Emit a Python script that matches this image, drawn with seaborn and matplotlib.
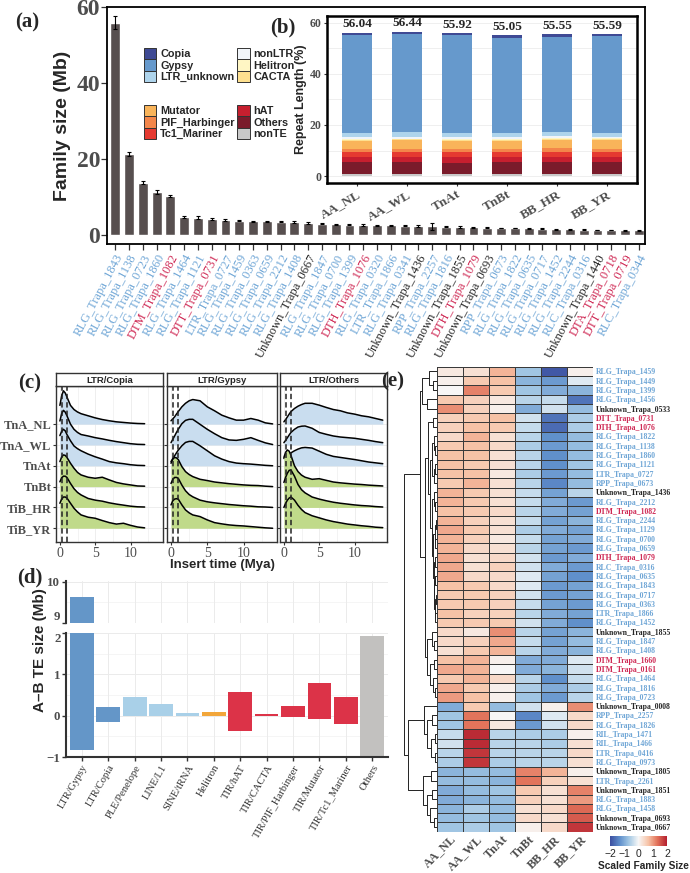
import numpy as np
import pandas as pd
import matplotlib
matplotlib.use('Agg')
import matplotlib.pyplot as plt
import seaborn as sns
from matplotlib.colors import LinearSegmentedColormap
from matplotlib.patches import Patch

# ---------------- DATA ----------------
fam_names = ["RLG_Trapa_1843", "RLG_Trapa_1138", "RLG_Trapa_0723", "RLG_Trapa_1860", "DTM_Trapa_1082",
             "RLG_Trapa_1464", "RLG_Trapa_1121", "DTT_Trapa_0731", "LTR_Trapa_0727", "RLG_Trapa_1459",
             "RLG_Trapa_0363", "RLG_Trapa_0659", "RLG_Trapa_2212", "RLG_Trapa_1408", "Unknown_Trapa_0667",
             "RLG_Trapa_1847", "RLG_Trapa_0700", "RLG_Trapa_1399", "DTH_Trapa_1076", "RLG_Trapa_0320",
             "LTR_Trapa_1866", "RLG_Trapa_0341", "Unknown_Trapa_1436", "RPP_Trapa_2257", "RLG_Trapa_1816",
             "Unknown_Trapa_1855", "DTH_Trapa_1079", "Unknown_Trapa_0693", "RPP_Trapa_0673", "RLG_Trapa_1822",
             "RLG_Trapa_0635", "RLG_Trapa_0717", "RLG_Trapa_1452", "RLG_Trapa_2244", "RLC_Trapa_0316",
             "Unknown_Trapa_1440", "DTA_Trapa_0718", "DTT_Trapa_0719", "RLC_Trapa_0344"]
fam_sizes = [56.0, 21.3, 13.8, 11.3, 10.2, 4.7, 4.5, 4.2, 3.9, 3.7, 3.6, 3.6, 3.5, 3.4, 3.2,
             3.0, 2.8, 2.7, 2.6, 2.5, 2.5, 2.4, 2.3, 2.3, 2.2, 2.1, 2.0, 1.9, 1.8, 1.8,
             1.7, 1.6, 1.5, 1.5, 1.4, 1.3, 1.3, 1.2, 1.2]
fam_err = [1.6, 0.6, 0.3, 0.5, 0.3, 0.2, 0.4, 0.2, 0.2, 0.15, 0.15, 0.15, 0.2, 0.15, 0.2,
           0.15, 0.15, 0.15, 0.15, 0.15, 0.15, 0.15, 0.2, 0.9, 0.15, 0.15, 0.1, 0.1, 0.1, 0.1,
           0.1, 0.1, 0.1, 0.1, 0.1, 0.1, 0.1, 0.1, 0.1]

# (b) stacked repeat composition (%)
rep_samples = ["AA_NL", "AA_WL", "TnAt", "TnBt", "BB_HR", "BB_YR"]
rep_totals = ["56.04", "56.44", "55.92", "55.05", "55.55", "55.59"]
rep_nonTE = [0.8, 0.8, 0.8, 0.8, 0.8, 0.8]
rep_Others = [4.6, 4.6, 4.5, 4.7, 4.8, 4.6]
rep_hAT = [2.0, 2.0, 2.0, 2.0, 2.0, 2.0]
rep_Tc1 = [1.9, 2.0, 2.0, 1.9, 2.0, 2.0]
rep_PIF = [1.3, 1.3, 1.3, 1.3, 1.3, 1.3]
rep_Mutator = [3.3, 3.3, 3.3, 3.2, 3.4, 3.4]
rep_CACTA = [0.4, 0.4, 0.4, 0.4, 0.4, 0.4]
rep_Helitron = [0.3, 0.3, 0.3, 0.3, 0.3, 0.3]
rep_nonLTR = [0.5, 0.5, 0.5, 0.5, 0.5, 0.5]
rep_LTRunk = [1.6, 1.9, 1.6, 1.9, 1.6, 1.7]
rep_Gypsy = [38.34, 38.34, 38.32, 36.95, 37.45, 37.59]
rep_Copia = [1.0, 1.0, 0.9, 1.1, 1.0, 1.0]

# (c) ridgeline densities (height in row units)
ridge_rows = ["TnA_NL", "TnA_WL", "TnAt", "TnBt", "TiB_HR", "TiB_YR"]
x_copia = [0, 0.25, 0.5, 0.75, 1, 1.5, 2, 2.5, 3, 4, 5, 6, 7, 8, 9, 10, 11, 12]
x_long = [0, 0.25, 0.5, 0.75, 1, 1.5, 2, 2.5, 3, 4, 5, 6, 7, 8, 9, 10, 11, 12, 13, 14]
copia_NL = [0.9, 1.35, 1.6, 1.5, 1.3, 0.9, 0.7, 0.58, 0.5, 0.4, 0.3, 0.22, 0.16, 0.11, 0.08, 0.05, 0.03, 0.02]
copia_WL = [1.15, 1.5, 1.66, 1.58, 1.4, 1.0, 0.75, 0.6, 0.5, 0.43, 0.35, 0.29, 0.22, 0.16, 0.11, 0.06, 0.03, 0.02]
copia_At = [1.45, 1.65, 1.75, 1.68, 1.5, 1.2, 0.95, 0.82, 0.72, 0.56, 0.43, 0.32, 0.2, 0.14, 0.1, 0.05, 0.02, 0.01]
copia_Bt = [1.2, 1.42, 1.52, 1.5, 1.4, 1.12, 0.88, 0.68, 0.56, 0.45, 0.4, 0.45, 0.32, 0.2, 0.13, 0.08, 0.03, 0.02]
copia_HR = [1.23, 1.42, 1.5, 1.5, 1.44, 1.15, 0.9, 0.72, 0.6, 0.43, 0.35, 0.3, 0.22, 0.16, 0.11, 0.06, 0.03, 0.02]
copia_YR = [1.2, 1.4, 1.5, 1.5, 1.45, 1.2, 0.96, 0.78, 0.64, 0.53, 0.48, 0.37, 0.27, 0.2, 0.24, 0.14, 0.06, 0.02]
gypsy_NL = [0.16, 0.25, 0.35, 0.48, 0.6, 0.83, 1.0, 1.12, 1.18, 1.12, 0.83, 0.64, 0.43, 0.3, 0.19, 0.19, 0.27, 0.19, 0.06, 0.01]
gypsy_WL = [0.11, 0.27, 0.43, 0.6, 0.75, 1.02, 1.18, 1.23, 1.23, 0.99, 0.75, 0.54, 0.35, 0.24, 0.22, 0.27, 0.35, 0.22, 0.1, 0.02]
gypsy_At = [0.2, 0.34, 0.48, 0.62, 0.75, 0.96, 1.12, 1.17, 1.17, 0.96, 0.72, 0.48, 0.32, 0.2, 0.13, 0.1, 0.08, 0.05, 0.02, 0.0]
gypsy_Bt = [1.12, 1.32, 1.4, 1.38, 1.3, 0.96, 0.72, 0.58, 0.48, 0.35, 0.29, 0.22, 0.18, 0.14, 0.11, 0.08, 0.06, 0.05, 0.02, 0.0]
gypsy_HR = [1.15, 1.35, 1.44, 1.44, 1.4, 1.07, 0.8, 0.62, 0.51, 0.35, 0.27, 0.22, 0.18, 0.14, 0.11, 0.08, 0.06, 0.03, 0.02, 0.0]
gypsy_YR = [1.12, 1.32, 1.4, 1.42, 1.4, 1.12, 0.88, 0.74, 0.64, 0.56, 0.4, 0.27, 0.21, 0.16, 0.13, 0.11, 0.08, 0.05, 0.02, 0.0]
others_NL = [0.11, 0.22, 0.35, 0.48, 0.6, 0.75, 0.86, 0.94, 1.0, 1.0, 0.91, 0.8, 0.7, 0.64, 0.54, 0.48, 0.4, 0.35, 0.27, 0.19]
others_WL = [0.11, 0.22, 0.35, 0.48, 0.6, 0.75, 0.86, 0.9, 0.91, 0.8, 0.6, 0.51, 0.43, 0.38, 0.35, 0.32, 0.27, 0.22, 0.16, 0.11]
others_At = [0.35, 0.42, 0.5, 0.57, 0.62, 0.72, 0.8, 0.86, 0.88, 0.85, 0.7, 0.55, 0.45, 0.4, 0.35, 0.3, 0.24, 0.18, 0.14, 0.1]
others_Bt = [1.4, 1.65, 1.76, 1.7, 1.5, 1.0, 0.72, 0.55, 0.45, 0.35, 0.38, 0.3, 0.22, 0.18, 0.15, 0.12, 0.1, 0.07, 0.05, 0.03]
others_HR = [1.2, 1.45, 1.65, 1.78, 1.8, 1.5, 1.1, 0.85, 0.7, 0.5, 0.4, 0.32, 0.25, 0.2, 0.16, 0.12, 0.09, 0.07, 0.04, 0.02]
others_YR = [1.0, 1.2, 1.35, 1.45, 1.5, 1.35, 1.1, 0.9, 0.75, 0.6, 0.5, 0.4, 0.32, 0.26, 0.2, 0.16, 0.12, 0.09, 0.05, 0.03]
insert_marks = [0.3, 1.0]

# (d) A-B TE size difference (floating bars: low, high)
te_cats = ["LTR/Gypsy", "LTR/Copia", "PLE/Penelope", "LINE/L1", "SINE/tRNA", "Helitron", "TIR/hAT",
           "TIR/CACTA", "TIR/PIF_Harbinger", "TIR/Mutator", "TIR/Tc1_Mariner", "Others"]
te_low = [-0.84, -0.15, 0.0, 0.0, -0.02, -0.02, -0.37, -0.01, -0.03, -0.08, -0.21, -1.05]
te_high = [9.62, 0.2, 0.44, 0.28, 0.06, 0.08, 0.57, 0.03, 0.24, 0.8, 0.44, 1.93]

# (e) heatmap of scaled family sizes
hm_cols = ["AA_NL", "AA_WL", "TnAt", "TnBt", "BB_HR", "BB_YR"]
hm_rows = ["RLG_Trapa_1459", "RLG_Trapa_1449", "RLG_Trapa_1399", "RLG_Trapa_1456", "Unknown_Trapa_0533",
           "DTT_Trapa_0731", "DTH_Trapa_1076", "RLG_Trapa_1822", "RLG_Trapa_1138", "RLG_Trapa_1860",
           "RLG_Trapa_1121", "LTR_Trapa_0727", "RPP_Trapa_0673", "Unknown_Trapa_1436", "RLG_Trapa_2212",
           "DTM_Trapa_1082", "RLG_Trapa_2244", "RLG_Trapa_1129", "RLG_Trapa_0700", "RLG_Trapa_0659",
           "DTH_Trapa_1079", "RLC_Trapa_0316", "RLG_Trapa_0635", "RLG_Trapa_1843", "RLG_Trapa_0717",
           "RLG_Trapa_0363", "LTR_Trapa_1866", "RLG_Trapa_1452", "Unknown_Trapa_1855", "RLG_Trapa_1847",
           "RLG_Trapa_1408", "DTM_Trapa_1660", "DTM_Trapa_0161", "RLG_Trapa_1464", "RLG_Trapa_1816",
           "RLG_Trapa_0723", "Unknown_Trapa_0008", "RPP_Trapa_2257", "RLG_Trapa_1826", "RIL_Trapa_1471",
           "RIL_Trapa_1466", "LTR_Trapa_0416", "RLG_Trapa_0973", "Unknown_Trapa_1805", "LTR_Trapa_2261",
           "Unknown_Trapa_1851", "RLG_Trapa_1883", "RLG_Trapa_1458", "Unknown_Trapa_0693", "Unknown_Trapa_0667"]
hm_AA_NL = [0.2, 0.1, 0.0, 0.6, 1.1, 0.5, 0.5, 0.4, 0.6, 0.7, 0.7, 0.7, 0.6, 0.8, 0.8, 0.7, 0.8, 0.9, 0.8, 0.8,
            0.9, 0.9, 0.9, 0.7, 0.6, 0.6, 0.7, 0.6, 0.4, 0.4, 0.3, 0.7, 0.9, 0.6, 0.9, 1.0,
            -1.0, -0.7, -0.7, -0.4, -0.3, -0.5, -0.6, -0.9, -0.8, -1.0, -1.0, -0.9, -0.8, -0.7]
hm_AA_WL = [0.3, 0.6, 1.2, 0.5, 0.5, 0.6, 0.7, 0.8, 0.7, 0.7, 0.6, 0.7, 0.8, 0.6, 0.6, 0.6, 0.5, 0.6, 0.5, 0.4,
            0.3, 0.3, 0.4, 0.6, 0.6, 0.6, 0.5, 0.6, 0.2, 0.5, 0.6, 0.8, 0.8, 0.8, 0.6, 0.7,
            0.6, 1.3, 1.3, 1.9, 1.9, 1.8, 1.8, -0.8, -0.8, -0.8, -0.9, -0.6, -0.7, -0.6]
hm_TnAt = [0.8, 0.7, 0.6, 0.2, 0.1, 0.7, 0.6, 0.3, 0.4, 0.3, 0.3, 0.2, 0.3, 0.3, 0.3, 0.4, 0.3, 0.3, 0.2, 0.3,
           0.4, 0.5, 0.4, 0.4, 0.5, 0.5, 0.5, 0.6, 1.1, 0.9, 0.8, 0.1, 0.0, 0.4, 0.1, 0.1,
           -0.8, 0.0, 0.2, -0.5, -0.5, -0.5, -0.6, -0.8, -0.9, -0.7, -0.8, -0.8, -0.8, -0.7]
hm_TnBt = [-0.7, -0.9, -0.7, -0.5, -1.0, -0.3, -0.4, -0.5, -0.6, -0.5, -0.5, -0.6, -0.5, -0.4, -0.4, -0.5, -0.4, -0.6, -0.4, -0.5,
           -0.3, -0.3, -0.2, -0.2, -0.3, -0.4, -0.5, -0.3, -0.5, -0.4, -0.5, -1.0, -1.0, -0.5, -0.6, -0.7,
           -0.3, -1.4, -1.2, -0.6, -0.5, -0.5, -0.5, 1.2, 1.3, 0.6, 0.5, 0.3, 0.4, 0.1]
hm_BB_HR = [-1.9, -1.2, -1.0, -0.4, -0.3, -1.6, -1.7, -1.3, -1.2, -1.3, -1.3, -1.2, -1.4, -1.1, -1.0, -1.0, -1.1, -1.0, -1.1, -1.1,
            -1.2, -1.0, -1.1, -1.2, -1.2, -1.1, -1.0, -1.0, -1.1, -1.1, -1.0, -1.0, -0.9, -1.3, -1.0, -1.2,
            0.1, -0.2, -0.3, -0.6, -0.6, -0.5, -0.5, 0.8, 0.5, 0.3, 0.3, 0.4, 0.3, 0.4]
hm_BB_YR = [0.1, -0.2, -0.9, -1.6, -0.8, -0.6, -0.6, -0.8, -0.8, -0.8, -0.7, -0.8, -0.8, -0.5, -1.2, -1.1, -0.9, -1.1, -1.0, -1.2,
            -1.0, -1.2, -1.3, -1.1, -1.1, -1.2, -1.1, -1.3, -0.9, -0.8, -0.9, -0.2, -0.3, -0.4, -0.6, -0.5,
            1.1, 0.4, 0.4, 0.1, 0.3, 0.4, 0.3, 0.1, 0.3, 1.2, 1.0, 1.4, 1.5, 1.8]
# row dendrogram: [height, left, right], leaves are row indices
dend_U1 = [0.46, [0.25, 0, [0.12, 1, 2]], [0.3, 3, 4]]
dend_A2 = [0.2,
           [0.14, [0.08, 7, [0.05, 8, 9]], [0.09, [0.05, 10, 11], 12]],
           [0.16, [0.1, 13, [0.06, 14, 15]],
            [0.13, [0.07, [0.04, 16, 17], [0.05, 18, 19]],
             [0.1, [0.06, 20, 21], [0.08, [0.05, 22, 23], [0.06, [0.04, 24, 25], [0.05, 26, 27]]]]]]]
dend_U2 = [0.36, [0.27, [0.12, 5, 6], dend_A2],
           [0.3, [0.15, 28, [0.08, 29, 30]], [0.2, [0.1, 31, 32], [0.12, 33, [0.07, 34, 35]]]]]
dend_L = [0.87, [0.4, 36, [0.3, [0.15, 37, 38], [0.18, [0.05, 39, 40], [0.07, 41, 42]]]],
          [0.43, [0.18, 43, 44], [0.3, [0.15, 45, 46], [0.2, 47, [0.1, 48, 49]]]]]
dend_root = [1.0, [0.52, dend_U1, dend_U2], dend_L]

# ---------------- STYLE ----------------
sns.set_style('white')
SERIF = ['Liberation Serif', 'DejaVu Serif']
SANS = ['Liberation Sans', 'DejaVu Sans']
plt.rcParams['font.family'] = SANS
GRAY_TXT = '#4d4d4d'
BLUE_TXT = '#6fa6d6'
RED_TXT = '#cf2a55'
BLK_TXT = '#262626'

def name_color(n):
    if n.startswith('DT'):
        return RED_TXT
    if n.startswith('Unknown'):
        return BLK_TXT
    return BLUE_TXT

W, H = 690, 873
fig = plt.figure(figsize=(6.9, 8.73), dpi=100)

def rect(x0, y0, x1, y1):
    return [x0 / W, 1 - y1 / H, (x1 - x0) / W, (y1 - y0) / H]

# ---------------- (a) ----------------
ax_a = fig.add_axes(rect(107, 7, 645, 244))
n = len(fam_names)
sns.barplot(x=fam_names, y=fam_sizes, color='#574f4f', saturation=1, width=0.72,
            errorbar=None, ax=ax_a)
ax_a.errorbar(np.arange(n), fam_sizes, yerr=fam_err, fmt='none', ecolor='black',
              elinewidth=0.8, capsize=1.6, capthick=0.8)
ax_a.set_xlim(-0.6, n - 0.55)
ax_a.set_ylim(-2.4, 60.1)
ax_a.set_yticks([0, 20, 40, 60])
ax_a.set_yticklabels(['0', '20', '40', '60'], family=SERIF, fontsize=17, fontweight='bold', color=GRAY_TXT)
ax_a.set_xticks(range(n))
ax_a.set_xticklabels(fam_names, rotation=62, ha='right', rotation_mode='anchor',
                     family=SERIF, fontsize=9)
for lbl, nm in zip(ax_a.get_xticklabels(), fam_names):
    lbl.set_color(name_color(nm))
ax_a.tick_params(axis='both', bottom=True, left=True, length=4, width=0.9, color='#333333', direction='out')
ax_a.tick_params(axis='x', pad=2)
ax_a.tick_params(axis='y', pad=1)
ax_a.set_xlabel('')
ax_a.set_ylabel('Family size (Mb)', fontsize=14, fontweight='bold', labelpad=4)
for s in ax_a.spines.values():
    s.set_visible(True)
    s.set_color('black')
    s.set_linewidth(1.3)

# legend
comp_colors = {
    'Copia': '#3f4a94', 'Gypsy': '#6699cc', 'LTR_unknown': '#aed4ec',
    'nonLTR': '#f1f5fa', 'Helitron': '#fff6c4', 'CACTA': '#fee08f',
    'Mutator': '#f9b45a', 'PIF_Harbinger': '#f3864a', 'Tc1_Mariner': '#e53a31',
    'hAT': '#c61f2f', 'Others': '#7a1b2b', 'nonTE': '#c9c9c9'}
grp1 = ['Copia', 'Gypsy', 'LTR_unknown', 'nonLTR', 'Helitron', 'CACTA']
grp2 = ['Mutator', 'PIF_Harbinger', 'Tc1_Mariner', 'hAT', 'Others', 'nonTE']
legkw = dict(ncol=2, loc='upper left', bbox_transform=fig.transFigure, frameon=False,
             prop=dict(family=SANS, weight='bold', size=7.8), handlelength=1.15, handleheight=1.25,
             labelspacing=0.0, handletextpad=0.35, columnspacing=0.25, borderpad=0, borderaxespad=0)
h1 = [Patch(facecolor=comp_colors[k], edgecolor='#333333', linewidth=0.7) for k in grp1]
h2 = [Patch(facecolor=comp_colors[k], edgecolor='#333333', linewidth=0.7) for k in grp2]
leg1 = ax_a.legend(h1, grp1, bbox_to_anchor=(144 / W, 1 - 48 / H), **legkw)
ax_a.add_artist(leg1)
leg2 = ax_a.legend(h2, grp2, bbox_to_anchor=(144 / W, 1 - 105 / H), **legkw)

# ---------------- (b) ----------------
ax_b = fig.add_axes(rect(327, 16, 637, 183))
ax_b.set_facecolor('white')
xb = np.arange(len(rep_samples))
layers = [('nonTE', rep_nonTE), ('Others', rep_Others), ('hAT', rep_hAT), ('Tc1_Mariner', rep_Tc1),
          ('PIF_Harbinger', rep_PIF), ('Mutator', rep_Mutator), ('CACTA', rep_CACTA),
          ('Helitron', rep_Helitron), ('nonLTR', rep_nonLTR), ('LTR_unknown', rep_LTRunk),
          ('Gypsy', rep_Gypsy), ('Copia', rep_Copia)]
bottom = np.zeros(len(rep_samples))
for name, vals in layers:
    ax_b.bar(xb, vals, bottom=bottom, width=0.6, color=comp_colors[name], linewidth=0, zorder=2)
    bottom = bottom + np.array(vals)
for i, t in enumerate(rep_totals):
    ax_b.text(xb[i], bottom[i] + 0.9, t, ha='center', va='bottom', family=SERIF,
              fontsize=9.5, fontweight='bold', zorder=3)
ax_b.set_xlim(-0.6, 5.6)
ax_b.set_ylim(-2.7, 62.6)
ax_b.set_yticks([0, 20, 40, 60])
ax_b.set_yticklabels(['0', '20', '40', '60'], family=SERIF, fontsize=8.5, fontweight='bold', color=GRAY_TXT)
for yv in [0, 10, 20, 30, 40, 50, 60]:
    ax_b.axhline(yv, color='#ececec', lw=0.6, zorder=0)
ax_b.set_xticks(xb)
ax_b.set_xticklabels(rep_samples, rotation=30, ha='right', rotation_mode='anchor',
                     family=SERIF, fontsize=9.5, fontweight='bold', color=GRAY_TXT)
ax_b.tick_params(axis='both', bottom=True, left=True, length=2.5, width=0.8, color='#333333', pad=1.5)
ax_b.set_ylabel('Repeat Length (%)', fontsize=9, fontweight='bold', labelpad=2)
for s in ax_b.spines.values():
    s.set_visible(True)
    s.set_color('black')
    s.set_linewidth(1.8)

# ---------------- (c) ----------------
facets = [('LTR/Copia', x_copia, [copia_NL, copia_WL, copia_At, copia_Bt, copia_HR, copia_YR], (56, 163)),
          ('LTR/Gypsy', x_long, [gypsy_NL, gypsy_WL, gypsy_At, gypsy_Bt, gypsy_HR, gypsy_YR], (167, 277)),
          ('LTR/Others', x_long, [others_NL, others_WL, others_At, others_Bt, others_HR, others_YR], (280, 387))]
fill_A = '#c9ddef'
fill_B = '#c0da8a'
for fi, (title, xs, curves, (x0, x1)) in enumerate(facets):
    ax = fig.add_axes(rect(x0, 386, x1, 542))
    ax.set_xlim(-0.55, 14.6)
    ax.set_ylim(-0.66, 6.83)
    for xv in [0, 2.5, 5, 7.5, 10, 12.5]:
        ax.axvline(xv, color='#ebebeb', lw=0.6 if xv in (0, 5, 10) else 0.4, zorder=0)
    for k in range(6):
        ax.axhline(k, color='#ebebeb', lw=0.6, zorder=0)
    for k, (rname, hv) in enumerate(zip(ridge_rows, curves)):
        base = 5 - k
        col = fill_A if k < 3 else fill_B
        yv = base + np.array(hv)
        ax.fill_between(xs, base, yv, color=col, linewidth=0, zorder=2 + k)
        sns.lineplot(x=xs, y=yv, color='black', linewidth=1.1, estimator=None, sort=False,
                     ax=ax, zorder=2.5 + k)
    for xv in insert_marks:
        ax.axvline(xv, color='#222222', lw=1.1, ls=(0, (3.5, 2)), zorder=20)
    ax.set_xticks([0, 5, 10])
    ax.set_xticklabels(['0', '5', '10'], family=SERIF, fontsize=10, color=GRAY_TXT)
    ax.set_yticks(range(6))
    if fi == 0:
        ax.set_yticklabels(ridge_rows[::-1], family=SERIF, fontsize=9, fontweight='bold', color=GRAY_TXT)
    else:
        ax.set_yticklabels([])
    ax.tick_params(axis='both', bottom=True, left=True, length=2.5, width=0.8, color='#333333', pad=1)
    ax.set_xlabel('')
    ax.set_ylabel('')
    for s in ax.spines.values():
        s.set_visible(True)
        s.set_color('#333333')
        s.set_linewidth(1.0)
    sax = fig.add_axes(rect(x0, 373, x1, 386))
    sax.set_xticks([])
    sax.set_yticks([])
    sax.set_facecolor('white')
    for s in sax.spines.values():
        s.set_visible(True)
        s.set_color('#333333')
        s.set_linewidth(1.0)
    sax.text(0.5, 0.45, title, ha='center', va='center', fontsize=6.8, fontweight='bold',
             transform=sax.transAxes)
fig.text(222 / W, 1 - 565 / H, 'Insert time (Mya)', ha='center', va='center', fontsize=9.5, fontweight='bold')

# ---------------- (d) ----------------
te_colors = ['#6496c8', '#6496c8', '#a9d0e8', '#a9d0e8', '#a9d0e8', '#f2a63a', '#dc3348',
             '#dc3348', '#dc3348', '#dc3348', '#dc3348', '#c2c1bf']
ax_du = fig.add_axes(rect(66, 581, 388, 623))
ax_dl = fig.add_axes(rect(66, 633, 388, 757))
xd = np.arange(len(te_cats))
for ax, ylim, maj, mnr in [(ax_du, (9.0, 10.02), [9, 10], [9.5]),
                           (ax_dl, (-1.0, 2.0), [-1, 0, 1, 2], [-0.5, 0.5, 1.5])]:
    heights = np.array(te_high) - np.array(te_low)
    ax.bar(xd, heights, bottom=te_low, width=0.9, color=te_colors, linewidth=0, zorder=2)
    ax.set_xlim(-0.6, 11.6)
    ax.set_ylim(*ylim)
    for yv in maj:
        ax.axhline(yv, color='#ebebeb', lw=0.7, zorder=0)
    for yv in mnr:
        ax.axhline(yv, color='#f2f2f2', lw=0.5, zorder=0)
    for xv in xd:
        ax.axvline(xv, color='#ebebeb', lw=0.7, zorder=0)
    ax.set_yticks(maj)
    ax.set_yticklabels([str(v).replace('-', '\u2212') for v in maj], family=SERIF, fontsize=9.3,
                       fontweight='bold', color=GRAY_TXT)
    for side in ['top', 'right']:
        ax.spines[side].set_visible(False)
    ax.spines['left'].set_color('#333333')
    ax.spines['left'].set_linewidth(1.5)
    ax.tick_params(axis='y', left=True, length=3, width=1.0, color='#333333', pad=1)
# keep the adjacent "9" and "2" labels of the broken axis apart
ax_du.get_yticklabels()[0].set_va('bottom')
ax_dl.get_yticklabels()[-1].set_va('top')
ax_du.spines['bottom'].set_visible(False)
ax_du.set_xticks([])
ax_dl.spines['bottom'].set_color('#333333')
ax_dl.spines['bottom'].set_linewidth(1.5)
ax_dl.set_xticks(xd)
ax_dl.set_xticklabels(te_cats, rotation=60, ha='right', rotation_mode='anchor',
                      family=SERIF, fontsize=7.6, color='#333333')
ax_dl.tick_params(axis='x', bottom=True, length=3, width=1.0, color='#333333', pad=1.5)
fig.text(40 / W, 1 - 650 / H, 'A\u2013B TE size (Mb)', rotation=90, ha='center', va='center',
         fontsize=11, fontweight='bold')

# ---------------- (e) ----------------
hm_df = pd.DataFrame({'AA_NL': hm_AA_NL, 'AA_WL': hm_AA_WL, 'TnAt': hm_TnAt,
                      'TnBt': hm_TnBt, 'BB_HR': hm_BB_HR, 'BB_YR': hm_BB_YR}, index=hm_rows)[hm_cols]
cmap = LinearSegmentedColormap.from_list('hm', [(0, '#3c4fa0'), (0.17, '#5f8fcb'), (0.33, '#a2c7e4'),
                                                (0.5, '#f7f7f7'), (0.67, '#f7c4a8'), (0.83, '#e2735a'),
                                                (1, '#b41f2f')])
ax_e = fig.add_axes(rect(437, 366.7, 593, 831.7))
cax = fig.add_axes(rect(610, 836, 667, 846))
sns.heatmap(hm_df, ax=ax_e, cmap=cmap, vmin=-2, vmax=2, linewidths=0.5, linecolor='#3a3a3a',
            cbar_ax=cax, cbar_kws=dict(orientation='horizontal', ticks=[-2, -1, 0, 1, 2]),
            xticklabels=hm_cols, yticklabels=hm_rows)
ax_e.yaxis.tick_right()
ax_e.set_yticks(np.arange(len(hm_rows)) + 0.5)
ax_e.set_yticklabels(hm_rows, rotation=0, family=SERIF, fontsize=5.6, fontweight='bold')
for lbl, nm in zip(ax_e.get_yticklabels(), hm_rows):
    lbl.set_color(name_color(nm))
ax_e.tick_params(axis='y', length=0, pad=2, labelright=True, labelleft=False)
ax_e.set_xticklabels(hm_cols, rotation=45, ha='right', rotation_mode='anchor',
                     family=SERIF, fontsize=8.7, fontweight='bold', color=GRAY_TXT)
ax_e.tick_params(axis='x', length=0, pad=1)
ax_e.set_xlabel('')
ax_e.set_ylabel('')
cax.tick_params(labelsize=7.5, length=0, pad=2)
cax.xaxis.set_ticklabels(['\u22122', '\u22121', '0', '1', '2'])
for s in cax.spines.values():
    s.set_visible(False)
cb = ax_e.collections[0].colorbar
if cb is not None:
    cb.outline.set_visible(False)
fig.text(643 / W, 1 - 866 / H, 'Scaled Family Size', ha='center', va='center', fontsize=7.3, fontweight='bold')

# dendrogram
ax_den = fig.add_axes(rect(400, 366.7, 437, 831.7))
ax_den.set_xlim(1.12, 0)
ax_den.set_ylim(len(hm_rows), 0)
ax_den.axis('off')

def draw_tree(ax, node):
    if isinstance(node, int):
        return node + 0.5, 0.0
    h, left, right = node
    y1, h1 = draw_tree(ax, left)
    y2, h2 = draw_tree(ax, right)
    ax.plot([h1, h, h, h2], [y1, y1, y2, y2], color='#222222', lw=0.7, solid_capstyle='butt')
    return (y1 + y2) / 2, h

draw_tree(ax_den, dend_root)

# ---------------- panel labels ----------------
for txt, x, y in [('(a)', 27, 22), ('(b)', 283, 27), ('(c)', 30, 383), ('(d)', 30, 577), ('(e)', 393, 381)]:
    fig.text(x / W, 1 - y / H, txt, ha='center', va='center', fontsize=15, fontweight='bold', family=SERIF)

fig.savefig('out.png', dpi=100)
